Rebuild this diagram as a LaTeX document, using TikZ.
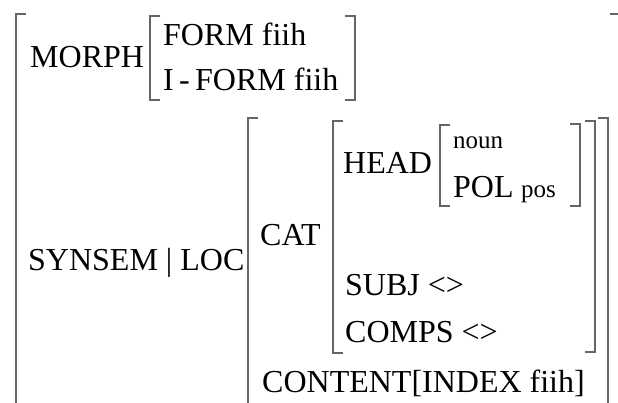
\documentclass[tikz,border=0pt]{standalone}
\usepackage{fontspec}
\setmainfont{Liberation Serif}
\begin{document}
\begin{tikzpicture}[x=1pt,y=-1pt,
  lab/.style={inner sep=0pt, anchor=base west, font=\fontsize{32}{38}\selectfont},
  sm/.style={inner sep=0pt, anchor=base west, font=\fontsize{25}{30}\selectfont},
  brk/.style={line width=1.4pt, draw=black!60}]
\useasboundingbox (0,0) rectangle (618,402);
\clip (0,0) rectangle (618,402);
% texts
\node[lab] (morph) at (30,67) {MORPH};
\node[lab] (form) at (163,45) {FORM fiih};
\node[lab] (iform) at (163,90) {I\,-\,FORM fiih};
\node[lab] (synsem) at (28,270) {SYNSEM | LOC};
\node[lab] (cat) at (260,245) {CAT};
\node[lab] (head) at (343,173) {HEAD};
\node[sm] (noun) at (453,148) {noun};
\node[lab] (pol) at (453,197) {POL};
\node[sm] (pos) at (521,197) {pos};
\node[lab] (subj) at (345,295) {SUBJ <>};
\node[lab] (comps) at (345,342) {COMPS <>};
\node[lab] (content) at (262,392) {CONTENT[INDEX fiih]};
% outer brackets
\draw[brk] (26,14) -- (16,14) -- (16,410);
\draw[brk] (610,14) -- (625,14) -- (625,410);
% MORPH value
\draw[brk] (160,16) -- (150,16) -- (150,100) -- (160,100);
\draw[brk] (345,16) -- (355,16) -- (355,100) -- (345,100);
% LOC value
\draw[brk] (258,118) -- (248,118) -- (248,410);
\draw[brk] (598,118) -- (608,118) -- (608,410);
% CAT value
\draw[brk] (343,121) -- (333,121) -- (333,353) -- (343,353);
\draw[brk] (585,121) -- (595,121) -- (595,352) -- (585,352);
% HEAD value
\draw[brk] (450,125) -- (440,125) -- (440,206) -- (450,206);
\draw[brk] (570,124) -- (580,124) -- (580,206) -- (570,206);
\end{tikzpicture}
\end{document}
